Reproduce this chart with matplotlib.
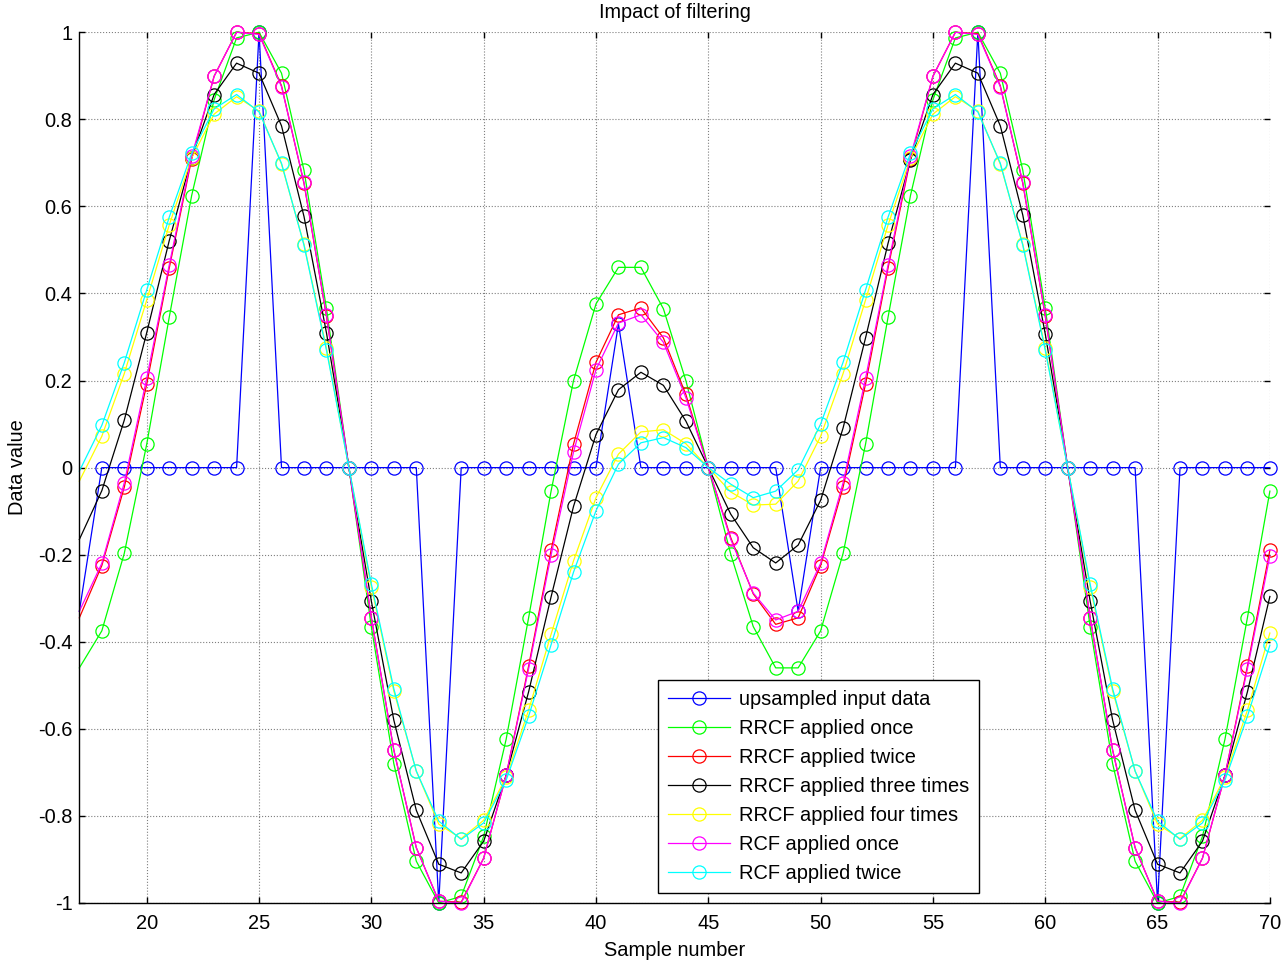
import matplotlib
matplotlib.use("Agg")
import matplotlib.pyplot as plt
from matplotlib.ticker import FixedLocator, FixedFormatter

plt.rcParams['font.family'] = ['Liberation Sans', 'DejaVu Sans']

sample = list(range(17, 71))

upsampled = [-0.33, 0, 0, 0, 0, 0, 0, 0, 1.0, 0, 0, 0, 0, 0, 0, 0,
             -1.0, 0, 0, 0, 0, 0, 0, 0, 0.33, 0, 0, 0, 0, 0, 0, 0,
             -0.33, 0, 0, 0, 0, 0, 0, 0, 1.0, 0, 0, 0, 0, 0, 0, 0,
             -1.0, 0, 0, 0, 0, 0]

rrcf_once = [-0.46, -0.375, -0.197, 0.054, 0.345, 0.625, 0.845, 0.987, 1.0, 0.906, 0.683, 0.366, 0.0,
             -0.366, -0.68, -0.904, -1.0, -0.985, -0.847, -0.624, -0.345, -0.054, 0.2, 0.376, 0.46,
             0.46, 0.365, 0.2, 0.0, -0.199, -0.365, -0.46,
             -0.46, -0.375, -0.197, 0.054, 0.345, 0.625, 0.845, 0.987, 1.0, 0.906, 0.683, 0.366, 0.0,
             -0.366, -0.68, -0.904, -1.0, -0.985, -0.847, -0.624, -0.345, -0.054]

rrcf_twice = [-0.345, -0.225, -0.045, 0.192, 0.458, 0.709, 0.899, 1.0, 0.997, 0.877, 0.653, 0.348, 0.0,
              -0.345, -0.649, -0.873, -0.996, -0.998, -0.897, -0.707, -0.456, -0.19, 0.054, 0.242, 0.351,
              0.367, 0.298, 0.168, 0.0, -0.161, -0.29, -0.36,
              -0.345, -0.225, -0.045, 0.192, 0.458, 0.709, 0.899, 1.0, 0.997, 0.877, 0.653, 0.348, 0.0,
              -0.345, -0.649, -0.873, -0.996, -0.998, -0.897, -0.707, -0.456, -0.19]

rrcf_three = [-0.165, -0.053, 0.109, 0.31, 0.521, 0.712, 0.857, 0.929, 0.906, 0.785, 0.577, 0.31, 0.0,
              -0.307, -0.58, -0.787, -0.911, -0.931, -0.858, -0.707, -0.515, -0.297, -0.089, 0.076, 0.179,
              0.219, 0.189, 0.107, 0.0, -0.107, -0.184, -0.219,
              -0.178, -0.075, 0.091, 0.298, 0.515, 0.707, 0.857, 0.929, 0.906, 0.785, 0.58, 0.307, 0.0,
              -0.307, -0.58, -0.787, -0.911, -0.931, -0.858, -0.707, -0.515, -0.296]

rrcf_four = [-0.031, 0.072, 0.216, 0.385, 0.557, 0.711, 0.812, 0.852, 0.819, 0.697, 0.513, 0.274, 0.0,
             -0.274, -0.513, -0.697, -0.819, -0.852, -0.81, -0.711, -0.557, -0.383, -0.214, -0.069, 0.031,
             0.082, 0.087, 0.055, 0.0, -0.056, -0.086, -0.084,
             -0.031, 0.072, 0.216, 0.385, 0.557, 0.711, 0.812, 0.852, 0.819, 0.697, 0.513, 0.274, 0.0,
             -0.274, -0.513, -0.697, -0.819, -0.852, -0.81, -0.711, -0.557, -0.38]

rcf_once = [-0.33, -0.22, -0.035, 0.205, 0.465, 0.715, 0.899, 1.0, 0.995, 0.875, 0.655, 0.35, 0.0,
            -0.345, -0.649, -0.873, -0.996, -1.0, -0.897, -0.707, -0.462, -0.201, 0.036, 0.225, 0.332,
            0.351, 0.288, 0.161, 0.0, -0.165, -0.288, -0.35,
            -0.33, -0.22, -0.035, 0.205, 0.465, 0.715, 0.899, 1.0, 0.995, 0.875, 0.655, 0.35, 0.0,
            -0.345, -0.649, -0.873, -0.996, -1.0, -0.897, -0.707, -0.462, -0.203]

rcf_twice = [-0.008, 0.097, 0.241, 0.408, 0.575, 0.722, 0.824, 0.857, 0.817, 0.699, 0.511, 0.27, 0.0,
             -0.268, -0.508, -0.697, -0.812, -0.854, -0.816, -0.718, -0.571, -0.407, -0.24, -0.099, 0.008,
             0.057, 0.069, 0.046, 0.0, -0.038, -0.069, -0.054,
             -0.005, 0.1, 0.242, 0.408, 0.575, 0.722, 0.824, 0.857, 0.817, 0.699, 0.511, 0.27, 0.0,
             -0.268, -0.508, -0.697, -0.812, -0.854, -0.816, -0.718, -0.571, -0.408]

series = [
    (upsampled, '#0000ff', 'upsampled input data'),
    (rrcf_once, '#00ff00', 'RRCF applied once'),
    (rrcf_twice, '#ff0000', 'RRCF applied twice'),
    (rrcf_three, '#000000', 'RRCF applied three times'),
    (rrcf_four, '#ffff00', 'RRCF applied four times'),
    (rcf_once, '#ff00ff', 'RCF applied once'),
    (rcf_twice, '#00ffff', 'RCF applied twice'),
]

x_ticks = [20, 25, 30, 35, 40, 45, 50, 55, 60, 65, 70]
y_ticks = [-1, -0.8, -0.6, -0.4, -0.2, 0, 0.2, 0.4, 0.6, 0.8, 1]
y_tick_labels = ['-1', '-0.8', '-0.6', '-0.4', '-0.2', '0', '0.2', '0.4', '0.6', '0.8', '1']

fig = plt.figure(figsize=(12.84, 9.6), dpi=100)
ax = fig.add_axes([0.0618, 0.0594, 0.9272, 0.907])

for vals, col, lab in series:
    ax.plot(sample, vals, color=col, lw=0.9, marker='o', markersize=9.5,
            markerfacecolor='none', markeredgecolor=col, markeredgewidth=0.9,
            markevery=slice(1, None), label=lab, clip_on=False)

ax.set_xlim(17, 70)
ax.set_ylim(-1, 1)
ax.xaxis.set_major_locator(FixedLocator(x_ticks))
ax.yaxis.set_major_locator(FixedLocator(y_ticks))
ax.yaxis.set_major_formatter(FixedFormatter(y_tick_labels))
ax.grid(True, color='#7f7f7f', linestyle=':', linewidth=0.8)
ax.set_axisbelow(True)
ax.spines['top'].set_visible(False)
ax.spines['right'].set_visible(False)
ax.spines['left'].set_linewidth(1.0)
ax.spines['bottom'].set_linewidth(1.0)
ax.tick_params(direction='in', length=4, width=1, top=True, right=True,
               labelsize=14.4)
ax.tick_params(axis='x', pad=8)
ax.tick_params(axis='y', pad=5)

ax.set_title('Impact of filtering', fontsize=14.3, pad=10)
ax.set_xlabel('Sample number', fontsize=14.4, labelpad=6)
ax.set_ylabel('Data value', fontsize=14.4, labelpad=8)

leg = ax.legend(loc='lower left', bbox_to_anchor=(0.486, 0.0115), fontsize=14.4,
                frameon=True, fancybox=False, edgecolor='black', framealpha=1,
                borderpad=0.5, labelspacing=0.5, handlelength=3.1, handletextpad=0.45,
                borderaxespad=0)
leg.get_frame().set_linewidth(1.0)

fig.savefig('out.png', dpi=100)
